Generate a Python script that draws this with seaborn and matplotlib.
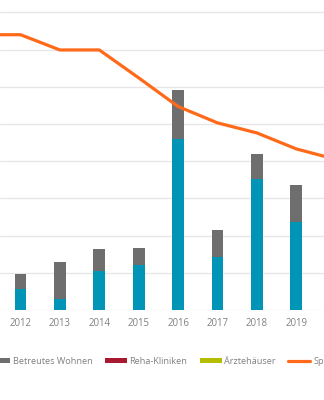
import matplotlib
matplotlib.use("Agg")
import matplotlib.pyplot as plt
from matplotlib.patches import Patch
from matplotlib.lines import Line2D
import seaborn as sns
import pandas as pd

# Transaction volume by segment (bars) and yield (line)
years = [2012, 2013, 2014, 2015, 2016, 2017, 2018, 2019]
pflegeheime = [0.56, 0.29, 1.04, 1.21, 4.59, 1.42, 3.51, 2.37]
betreutes_wohnen = [0.41, 0.99, 0.60, 0.45, 1.32, 0.73, 0.68, 0.98]
reha_kliniken = [0, 0, 0, 0, 0, 0, 0, 0]
aerztehaeuser = [0, 0, 0, 0, 0, 0, 0, 0]

line_years = [2011, 2012, 2013, 2014, 2015, 2016, 2017, 2018, 2019, 2020]
spitzenrendite = [7.40, 7.40, 6.99, 6.99, 6.24, 5.47, 5.03, 4.76, 4.33, 4.05]

labels = ["Pflegeheime", "Betreutes Wohnen", "Reha-Kliniken", "Ärztehäuser",
          "Spitzenrendite"]

c_teal = "#0095B6"
c_gray = "#6E6E6E"
c_red = "#A6192E"
c_green = "#B5BD00"
c_orange = "#FF6A1A"
c_text = "#808080"

sns.set_style("white")
plt.rcParams["font.family"] = ["Open Sans", "DejaVu Sans"]

df = pd.DataFrame({
    "year": years,
    "pflege": pflegeheime,
    "wohnen": betreutes_wohnen,
    "reha": reha_kliniken,
    "aerzte": aerztehaeuser,
})
df["top_wohnen"] = df["pflege"] + df["wohnen"]
df["top_reha"] = df["top_wohnen"] + df["reha"]
df["top_aerzte"] = df["top_reha"] + df["aerzte"]

fig = plt.figure(figsize=(3.24, 4.0), dpi=100)
ax = fig.add_axes([0.0, 0.225, 1.0, 0.775])

# stacked bars: draw cumulative tops from highest to lowest
for col, color in [("top_aerzte", c_green), ("top_reha", c_red),
                   ("top_wohnen", c_gray), ("pflege", c_teal)]:
    sns.barplot(data=df, x="year", y=col, native_scale=True, width=0.3,
                color=color, saturation=1, edgecolor="none", errorbar=None,
                ax=ax, zorder=2)

sns.lineplot(x=line_years, y=spitzenrendite, color=c_orange, linewidth=2.3,
             ax=ax, zorder=3)

ax.set_yticks(range(0, 9))
ax.set_yticklabels([])
ax.set_xticks(line_years)
ax.set_xticklabels([str(y) for y in line_years])
ax.set_xlim(2011.48, 2011.48 + 8.223)
ax.set_ylim(0, 8.333)
ax.tick_params(axis="x", length=0, pad=6, labelsize=6.9, labelcolor=c_text)
ax.tick_params(axis="y", length=0)
ax.grid(axis="y", color="#E6E6E6", linewidth=0.9, zorder=0)
ax.set_axisbelow(True)
ax.set_xlabel("")
ax.set_ylabel("")
for s in ax.spines.values():
    s.set_visible(False)

handles = [
    Patch(facecolor=c_teal, edgecolor="none"),
    Patch(facecolor=c_gray, edgecolor="none"),
    Patch(facecolor=c_red, edgecolor="none"),
    Patch(facecolor=c_green, edgecolor="none"),
    Line2D([0], [0], color=c_orange, linewidth=2.3),
]
leg = fig.legend(handles, labels, ncol=5, loc="center left",
                 bbox_to_anchor=(-0.3146, 0.096), frameon=False, fontsize=6.6,
                 handlelength=2.4, handleheight=0.5, handletextpad=0.3,
                 columnspacing=1.35, borderpad=0, borderaxespad=0)
for t in leg.get_texts():
    t.set_color(c_text)

fig.savefig("out.png", dpi=100)
